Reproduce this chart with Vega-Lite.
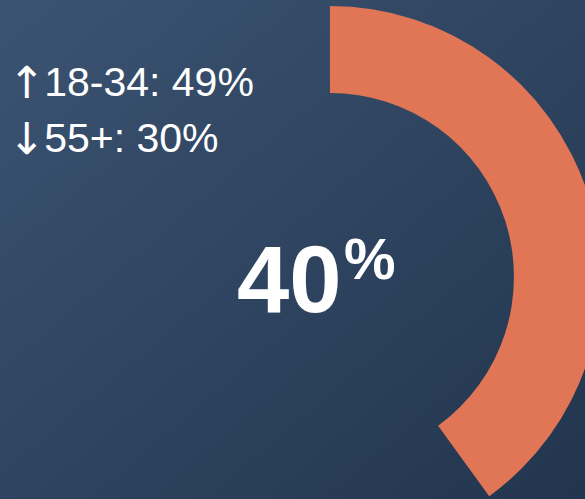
{
  "$schema": "https://vega.github.io/schema/vega-lite/v6.json",
  "width": 585,
  "height": 499,
  "autosize": {"type": "none"},
  "padding": 0,
  "background": "#2E4460",
  "config": {"view": {"stroke": null}},
  "layer": [
    {
      "data": {"values": [{"bg": 1}]},
      "mark": {
        "type": "rect",
        "fill": {
          "gradient": "linear",
          "x1": 0, "y1": 0, "x2": 1, "y2": 1,
          "stops": [
            {"offset": 0, "color": "#3B5372"},
            {"offset": 1, "color": "#22354E"}
          ]
        }
      },
      "encoding": {}
    },
    {
      "data": {"values": [{"segment": "share", "value": 40}]},
      "mark": {"type": "arc", "innerRadius": 184, "outerRadius": 271, "color": "#E07656"},
      "encoding": {
        "theta": {"field": "value", "type": "quantitative", "stack": true, "scale": {"domain": [0, 100]}},
        "x": {"datum": 0.564, "type": "quantitative", "scale": {"domain": [0, 1], "nice": false, "zero": false}, "axis": null},
        "y": {"datum": 0.445, "type": "quantitative", "scale": {"domain": [0, 1], "nice": false, "zero": false}, "axis": null}
      }
    },
    {
      "data": {"values": [{"arrows": ["↑", "↓"]}]},
      "mark": {"type": "text", "align": "center", "baseline": "alphabetic", "font": "DejaVu Sans", "fontSize": 44, "lineHeight": 56, "color": "#FFFFFF"},
      "encoding": {
        "text": {"field": "arrows"},
        "x": {"datum": 0.046, "type": "quantitative"},
        "y": {"datum": 0.804, "type": "quantitative"}
      }
    },
    {
      "data": {"values": [{"lines": ["18-34: 49%", "55+: 30%"]}]},
      "mark": {"type": "text", "align": "left", "baseline": "alphabetic", "font": "Liberation Sans", "fontSize": 41, "lineHeight": 56, "color": "#FFFFFF"},
      "encoding": {
        "text": {"field": "lines"},
        "x": {"datum": 0.0755, "type": "quantitative"},
        "y": {"datum": 0.808, "type": "quantitative"}
      }
    },
    {
      "data": {"values": [{"big": "40"}]},
      "mark": {"type": "text", "align": "left", "baseline": "alphabetic", "font": "Liberation Sans", "fontWeight": "bold", "fontSize": 94, "color": "#FFFFFF"},
      "encoding": {
        "text": {"field": "big"},
        "x": {"datum": 0.405, "type": "quantitative"},
        "y": {"datum": 0.375, "type": "quantitative"}
      }
    },
    {
      "data": {"values": [{"sym": "%"}]},
      "mark": {"type": "text", "align": "left", "baseline": "alphabetic", "font": "Liberation Sans", "fontWeight": "bold", "fontSize": 58, "color": "#FFFFFF"},
      "encoding": {
        "text": {"field": "sym"},
        "x": {"datum": 0.588, "type": "quantitative"},
        "y": {"datum": 0.44, "type": "quantitative"}
      }
    }
  ]
}
